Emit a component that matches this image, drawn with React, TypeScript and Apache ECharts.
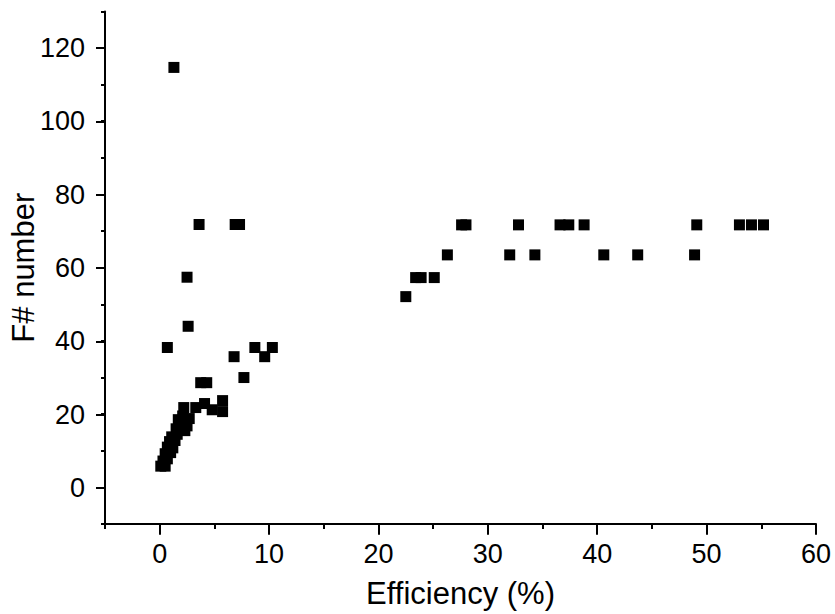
import React, { useEffect, useRef } from "react";
import * as echarts from "echarts";

// Efficiency (%) values of each measured point
const efficiency: number[] = [
  // low cluster
  0.1, 0.5, 0.3, 0.7, 0.5, 1.0, 0.7, 1.2, 0.9, 1.4, 1.1, 1.6, 1.5, 2.3, 1.8, 2.5,
  1.7, 2.7, 2.1, 2.2, 3.3, 4.1, 4.8, 5.75, 5.75,
  // scattered low-efficiency points
  1.3, 3.6, 6.9, 7.3, 2.5, 2.6, 0.7, 6.8, 8.7, 10.3, 9.6, 7.7, 3.75, 4.3,
  // high-efficiency points
  22.5, 23.4, 23.9, 25.1,
  26.3, 32.0, 34.3, 40.6, 43.7, 48.9,
  27.6, 28.0, 32.8, 36.6, 37.4, 38.8, 49.1, 53.0, 54.1, 55.2,
];

// F# number of each point (same order)
const fNumber: number[] = [
  5.8, 5.8, 7.2, 7.8, 9.2, 9.5, 11, 10.8, 12.5, 12.8, 13.8, 14.5, 16, 15.5, 17, 16.8,
  18.5, 18.8, 19.5, 21.8, 21.8, 22.9, 21.2, 23.7, 20.7,
  114.7, 71.8, 71.8, 71.8, 57.4, 44.0, 38.2, 35.7, 38.2, 38.2, 35.7, 30.0, 28.6, 28.6,
  52.1, 57.3, 57.3, 57.3,
  63.5, 63.5, 63.5, 63.5, 63.5, 63.5,
  71.7, 71.7, 71.7, 71.7, 71.7, 71.7, 71.7, 71.7, 71.7, 71.7,
];

const xTicksMajor = { min: 0, max: 60, step: 10 };
const yTicksMajor = { min: 0, max: 120, step: 20 };

const FONT = "'Liberation Sans', Arial, sans-serif";

export default function App() {
  const ref = useRef<HTMLDivElement>(null);

  useEffect(() => {
    if (!ref.current) return;
    const chart = echarts.init(ref.current, undefined, { renderer: "svg" });
    const data = efficiency.map((x, i) => [x, fNumber[i]]);

    const W = 835, H = 614;
    const gLeft = 105, gRight = 19, gTop = 11.4, gBottom = 89.3;
    const xMin = -5, xMax = 60, yMin = -10, yMax = 130;
    const pxPerX = (W - gLeft - gRight) / (xMax - xMin);
    const pxPerY = (H - gTop - gBottom) / (yMax - yMin);
    const bLeft = gLeft + (xTicksMajor.min - xMin) * pxPerX;
    const bTop = gTop + (yMax - yTicksMajor.max) * pxPerY;
    const bBottom = gBottom + (yTicksMajor.min - yMin) * pxPerY;
    const xOffset = (yTicksMajor.min - yMin) * pxPerY;
    const yOffset = (xTicksMajor.min - xMin) * pxPerX;

    const line = { color: "#000", width: 2 };
    const labelStyle = { fontSize: 27, color: "#000", fontFamily: FONT };
    const nameStyle = { fontSize: 31, color: "#000", fontFamily: FONT };

    chart.setOption({
      animation: false,
      backgroundColor: "#fff",
      grid: [
        { left: gLeft, right: gRight, top: gTop, bottom: gBottom },
        { left: bLeft, right: gRight, top: bTop, bottom: bBottom },
      ],
      xAxis: [
        {
          gridIndex: 0,
          type: "value",
          min: xMin,
          max: xMax,
          interval: 5,
          axisLine: { show: true, onZero: false, lineStyle: line },
          axisTick: { show: true, length: 5, lineStyle: line },
          axisLabel: { show: false },
          splitLine: { show: false },
          name: "Efficiency (%)",
          nameLocation: "middle",
          nameGap: 54,
          nameTextStyle: nameStyle,
        },
        {
          gridIndex: 1,
          type: "value",
          min: xTicksMajor.min,
          max: xTicksMajor.max,
          interval: xTicksMajor.step,
          offset: xOffset,
          axisLine: { show: false, onZero: false },
          axisTick: { show: true, length: 10, lineStyle: line },
          axisLabel: { ...labelStyle, margin: 16 },
          splitLine: { show: false },
        },
      ],
      yAxis: [
        {
          gridIndex: 0,
          type: "value",
          min: yMin,
          max: yMax,
          interval: 10,
          axisLine: { show: true, onZero: false, lineStyle: line },
          axisTick: { show: true, length: 4, lineStyle: line },
          axisLabel: { show: false },
          splitLine: { show: false },
          name: "F# number",
          nameLocation: "middle",
          nameGap: 66,
          nameTextStyle: nameStyle,
        },
        {
          gridIndex: 1,
          type: "value",
          min: yTicksMajor.min,
          max: yTicksMajor.max,
          interval: yTicksMajor.step,
          offset: yOffset,
          axisLine: { show: false, onZero: false },
          axisTick: { show: true, length: 9, lineStyle: line },
          axisLabel: { ...labelStyle, margin: 20 },
          splitLine: { show: false },
        },
      ],
      series: [
        {
          type: "scatter",
          xAxisIndex: 0,
          yAxisIndex: 0,
          symbol: "rect",
          symbolSize: 11,
          itemStyle: { color: "#000", opacity: 1 },
          data,
        },
      ],
    });
    return () => chart.dispose();
  }, []);

  return (
    <div
      ref={ref}
      style={{ position: "fixed", left: 0, top: 0, width: 835, height: 614, background: "#fff" }}
    />
  );
}
